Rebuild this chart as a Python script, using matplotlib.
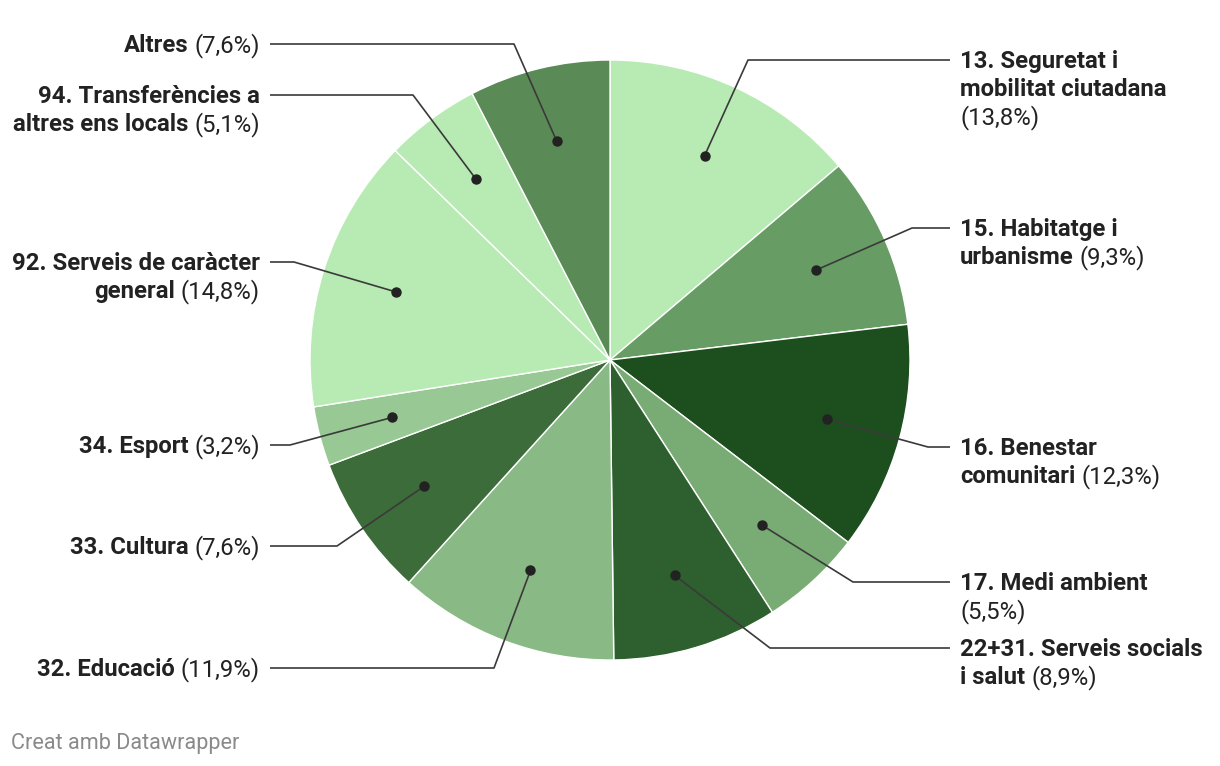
import math
import matplotlib
matplotlib.use("Agg")
from matplotlib import pyplot as plt

# data, clockwise from 12 o'clock
names = [
    "13. Seguretat i\nmobilitat ciutadana\n",
    "15. Habitatge i\nurbanisme",
    "16. Benestar\ncomunitari",
    "17. Medi ambient\n",
    "22+31. Serveis socials\ni salut",
    "32. Educació",
    "33. Cultura",
    "34. Esport",
    "92. Serveis de caràcter\ngeneral",
    "94. Transferències a\naltres ens locals",
    "Altres",
]
shares = [13.8, 9.3, 12.3, 5.5, 8.9, 11.9, 7.6, 3.2, 14.8, 5.1, 7.6]
colors = ["#b7ebb3", "#679c65", "#1d4e1e", "#79ac74", "#2e5f2e", "#89b985",
          "#3c6c3a", "#98c893", "#b7ebb3", "#b7ebb3", "#5a8a56"]

# label layout (pixels from top): first line y, elbow x
label_y = [60, 228, 447, 582, 648, 668, 546, 445, 262, 95, 44]
elbow_x = [748, 912, 928, 853, 770, 494, 337, 290, 294, 413, 514]

W, H = 1220, 766
cx, cy, R = 610, H - 360, 300
LINE_H = 28
FS = 17.2
TXT_DY = -1.5  # nudge text baseline a bit down
txt_col = "#222222"

fig = plt.figure(figsize=(W / 100, H / 100), dpi=100)
ax = fig.add_axes([0, 0, 1, 1])
wedges, _ = ax.pie(shares, colors=colors, startangle=90, counterclock=False,
                   center=(cx, cy), radius=R,
                   wedgeprops=dict(edgecolor="white", linewidth=1))
ax.set_xlim(0, W)
ax.set_ylim(0, H)
ax.set_aspect("equal")
ax.axis("off")

renderer = fig.canvas.get_renderer()

def width_of(t):
    return t.get_window_extent(renderer=renderer).width

for i, w in enumerate(wedges):
    mid = math.radians((w.theta1 + w.theta2) / 2)
    dx = cx + 0.75 * R * math.cos(mid)
    dy = cy + 0.75 * R * math.sin(mid)
    ly = H - label_y[i]
    right = dx > cx
    end_x = 950 if right else 270
    ax.plot([dx, elbow_x[i], end_x], [dy, ly, ly], color="#3a3a3a", lw=1.2,
            solid_capstyle="butt", zorder=3)
    ax.plot(dx, dy, "o", color="#222222", ms=6.5, zorder=4)

    lines = names[i].split("\n")
    pct = "(" + f"{shares[i]:.1f}".replace(".", ",") + "%)"
    for j, line in enumerate(lines):
        y = ly - j * LINE_H + TXT_DY
        last = j == len(lines) - 1
        if right:
            x0 = 960
            if line:
                t = ax.text(x0, y, line, ha="left", va="center", fontsize=FS,
                            fontfamily="Roboto", fontweight="bold", color=txt_col)
                x0 += width_of(t) + 6
            if last:
                ax.text(x0, y, pct, ha="left", va="center", fontsize=FS,
                        fontfamily="Roboto", color=txt_col)
        else:
            x0 = 260
            if last:
                t = ax.text(x0, y, pct, ha="right", va="center", fontsize=FS,
                            fontfamily="Roboto", color=txt_col)
                x0 -= width_of(t) + 6
            if line:
                ax.text(x0, y, line, ha="right", va="center", fontsize=FS,
                        fontfamily="Roboto", fontweight="bold", color=txt_col)

fig.text(11 / W, 1 - 744 / H, "Creat amb Datawrapper", ha="left", va="center",
         fontsize=15.6, fontfamily="Roboto", color="#8a8a8a")

fig.savefig("out.png", dpi=100)
